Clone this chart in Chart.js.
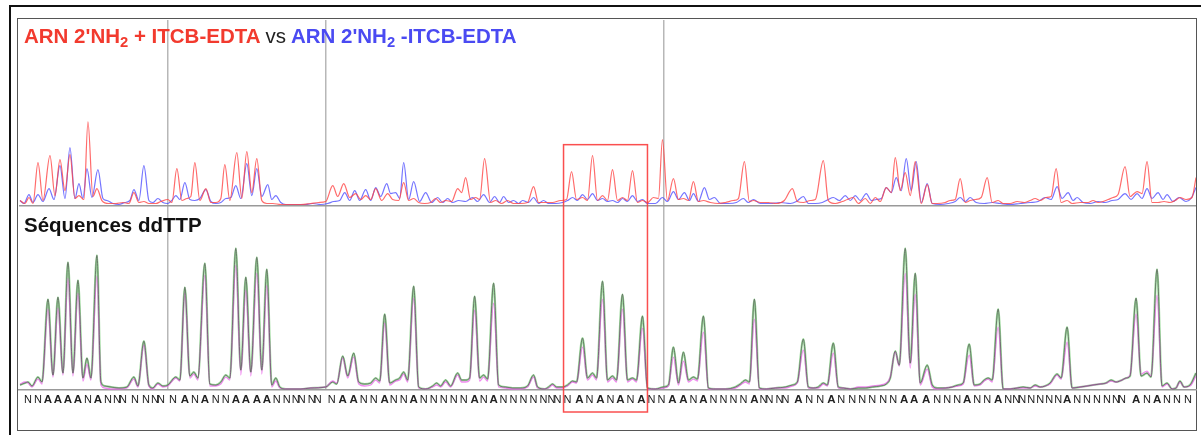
<!DOCTYPE html>
<html>
<head>
<meta charset="utf-8">
<script src="https://cdn.jsdelivr.net/npm/chart.js@4/dist/chart.umd.min.js"></script>
<style>
body { margin: 0; background: #fff; }
#wrap { position: relative; width: 1201px; height: 435px; overflow: hidden; font-family: "Liberation Sans", Arial, sans-serif; }
#outer { position: absolute; left: 9px; top: 5px; right: -5px; bottom: -5px; border-left: 2px solid #111; border-top: 2px solid #111; }
#inner { position: absolute; box-sizing: border-box; left: 17px; top: 18px; width: 1180px; height: 413px; border: 1.5px solid #555; }
canvas { position: absolute; left: 0; top: 0; }
.lbl { position: absolute; left: 24px; font-weight: bold; font-size: 20.5px; line-height: 20px; white-space: nowrap; z-index: 2; }
.lbl sub { font-size: 0.72em; vertical-align: -0.28em; line-height: 0; }
.vs { font-weight: normal; color: #222; }
</style>
</head>
<body>
<div id="wrap">
  <div id="outer"></div>
  <div id="inner"></div>
  <canvas id="trace" width="1201" height="435"></canvas>
  <div class="lbl" style="top:26px"><span style="color:#f23a2e">ARN 2'NH<sub>2</sub> + ITCB-EDTA</span> <span class="vs">vs</span> <span style="color:#4a4af2">ARN 2'NH<sub>2</sub> -ITCB-EDTA</span></div>
  <div class="lbl" style="top:215px;color:#111">Séquences ddTTP</div>
</div>
<script>
// scan positions run 18..1196, signal in arbitrary fluorescence units

// top panel: modified RNA with / without ITCB-EDTA
var redTrace = [[19,5],[24,2],[28,8],[32,2],[37,43],[42,5],[49,50],[54,10],[59,46],[64,15],[69,51],[74,7],[78,10],[83,6],[87,84],[92,9],[96,17],[101,5],[108,2],[115,2],[122,3],[128,2],[133,13],[138,3],[143,4],[148,2],[155,2],[160,4],[167,6],[171,3],[176,37],[181,5],[186,7],[190,9],[194,43],[199,5],[205,17],[210,3],[215,3],[220,7],[224,41],[229,5],[236,53],[241,7],[246,54],[251,13],[256,47],[261,5],[266,2],[272,2],[280,1],[290,1],[300,1],[310,2],[318,3],[325,4],[332,20],[337,9],[343,22],[349,8],[355,12],[360,6],[365,10],[370,6],[375,17],[381,5],[387,12],[392,6],[398,5],[403,23],[408,5],[413,7],[418,3],[424,2],[430,3],[435,7],[440,3],[445,5],[451,4],[457,17],[461,13],[465,28],[470,6],[475,8],[479,6],[484,47],[490,3],[495,5],[501,2],[507,5],[513,2],[520,2],[527,3],[533,19],[538,3],[545,3],[552,3],[560,5],[566,6],[571,34],[576,6],[582,8],[587,5],[592,50],[597,5],[602,10],[607,5],[612,36],[617,5],[622,8],[627,5],[632,35],[637,3],[642,5],[647,3],[653,8],[658,7],[662,66],[667,5],[673,27],[678,6],[683,7],[688,5],[693,24],[698,4],[703,5],[710,3],[718,2],[725,3],[733,5],[738,7],[744,44],[749,4],[753,5],[760,3],[768,3],[776,2],[784,5],[792,17],[797,4],[803,3],[810,5],[815,6],[823,45],[828,5],[835,2],[842,4],[847,6],[853,8],[858,2],[865,7],[870,2],[875,8],[880,4],[886,18],[891,13],[895,48],[900,15],[905,33],[910,10],[915,44],[921,2],[927,21],[932,2],[937,2],[945,3],[950,5],[955,6],[960,27],[965,3],[970,5],[975,6],[981,8],[987,28],[992,3],[998,5],[1003,2],[1010,2],[1017,4],[1024,3],[1030,5],[1035,7],[1040,5],[1046,8],[1051,9],[1056,37],[1061,3],[1067,5],[1072,2],[1080,3],[1088,3],[1093,5],[1098,3],[1103,4],[1108,6],[1113,8],[1118,11],[1125,39],[1130,9],[1137,14],[1142,12],[1147,44],[1152,3],[1158,3],[1164,4],[1170,3],[1175,5],[1180,8],[1186,6],[1192,8],[1196,28]];

var blueTrace = [[19,5],[23,2],[28,11],[32,3],[37,11],[42,4],[48,17],[53,6],[59,40],[64,7],[69,58],[74,7],[78,22],[82,7],[86,37],[91,8],[97,36],[102,7],[106,5],[112,2],[118,1],[124,3],[129,5],[133,16],[138,5],[143,40],[148,5],[152,3],[157,7],[162,3],[167,2],[171,5],[175,10],[179,6],[184,23],[189,6],[194,5],[199,7],[205,16],[210,4],[215,2],[220,3],[225,7],[230,8],[235,20],[240,7],[246,42],[251,10],[256,37],[261,9],[267,21],[271,6],[275,10],[280,3],[285,1],[295,1],[305,1],[312,2],[320,1],[327,2],[333,4],[339,5],[344,13],[349,5],[354,15],[359,5],[365,16],[370,5],[375,18],[380,9],[386,22],[390,12],[395,13],[399,7],[403,43],[408,6],[413,24],[419,4],[425,13],[431,3],[437,8],[442,3],[447,7],[452,3],[458,5],[465,4],[472,8],[477,4],[483,11],[489,3],[494,9],[499,3],[503,9],[508,3],[513,5],[518,2],[522,5],[528,3],[533,8],[538,2],[543,5],[548,2],[555,2],[562,3],[567,5],[572,8],[577,5],[582,11],[587,6],[592,12],[597,5],[602,7],[607,4],[612,5],[617,3],[622,7],[627,4],[632,10],[637,4],[642,6],[647,2],[655,2],[662,8],[667,4],[673,14],[678,6],[684,13],[689,5],[693,12],[698,4],[704,18],[709,6],[714,8],[720,2],[728,2],[736,3],[743,7],[748,3],[753,6],[760,2],[770,2],[780,3],[790,2],[796,4],[803,9],[808,2],[815,2],[822,3],[828,6],[833,8],[839,5],[845,10],[850,5],[855,10],[860,5],[866,12],[871,5],[876,6],[881,7],[886,18],[891,13],[896,28],[901,15],[906,47],[911,15],[916,44],[921,3],[927,22],[932,2],[940,1],[948,2],[955,4],[960,8],[965,4],[970,8],[976,3],[984,2],[992,3],[1000,2],[1010,1],[1020,2],[1030,3],[1038,4],[1045,8],[1051,6],[1057,19],[1062,7],[1068,13],[1073,5],[1077,8],[1083,3],[1090,2],[1098,4],[1105,3],[1112,5],[1118,6],[1125,12],[1131,6],[1137,12],[1142,7],[1147,17],[1152,7],[1158,13],[1163,6],[1167,11],[1173,4],[1179,8],[1186,4],[1191,7],[1196,18]];

// bottom panel: ddTTP sequencing ladder
var greenTrace = [[19,5],[24,7],[27,8],[31,4],[37,13],[41,8],[47,91],[52,15],[57,93],[62,17],[67,128],[72,17],[77,110],[82,12],[86,32],[90,12],[96,135],[100,8],[104,4],[110,3],[118,2],[126,3],[133,13],[137,4],[143,49],[148,5],[152,2],[157,7],[162,4],[167,5],[175,13],[179,10],[184,103],[189,14],[193,18],[197,12],[204,127],[209,6],[215,5],[220,8],[225,15],[229,12],[235,142],[240,20],[245,113],[250,18],[256,133],[261,20],[266,121],[271,5],[275,12],[279,3],[285,1],[300,1],[310,2],[325,3],[332,8],[336,6],[342,34],[347,14],[353,37],[358,8],[364,6],[370,7],[375,12],[379,9],[384,76],[389,7],[395,10],[399,12],[403,18],[407,10],[413,104],[418,3],[425,1],[432,4],[436,7],[440,4],[445,10],[450,4],[457,17],[461,10],[465,10],[469,12],[474,94],[479,12],[483,15],[487,11],[493,107],[498,5],[505,3],[512,2],[520,2],[527,4],[533,15],[537,3],[544,1],[548,3],[552,6],[556,3],[562,3],[567,5],[572,9],[576,8],[582,52],[587,12],[592,17],[596,12],[602,109],[607,10],[612,14],[616,10],[622,96],[627,10],[632,12],[636,10],[642,74],[647,2],[655,1],[663,3],[668,5],[673,43],[678,7],[683,38],[688,10],[693,13],[697,11],[703,74],[708,2],[715,1],[725,1],[735,3],[740,6],[745,10],[749,8],[754,91],[759,2],[766,1],[775,2],[785,3],[792,5],[797,8],[803,51],[808,3],[813,2],[818,3],[823,7],[827,5],[833,47],[838,3],[843,2],[850,1],[858,2],[865,2],[872,3],[880,4],[886,6],[890,12],[895,39],[899,25],[905,142],[910,27],[915,117],[920,7],[927,25],[932,5],[937,2],[945,2],[952,3],[958,5],[963,7],[969,46],[974,5],[980,6],[984,10],[988,12],[992,10],[998,81],[1003,1],[1010,1],[1017,2],[1023,3],[1030,2],[1035,5],[1040,3],[1045,4],[1050,7],[1057,16],[1061,12],[1067,63],[1072,2],[1080,3],[1087,4],[1093,5],[1100,6],[1106,7],[1111,10],[1116,8],[1122,10],[1126,12],[1130,14],[1136,92],[1141,14],[1147,17],[1151,13],[1157,121],[1162,4],[1167,7],[1172,1],[1176,2],[1180,9],[1184,3],[1190,5],[1196,17]];

var magentaTrace = [[19,6],[24,8],[27,7],[31,3],[37,11],[41,6],[47,81],[52,13],[57,82],[62,15],[67,112],[72,14],[77,97],[82,9],[86,26],[90,10],[96,114],[100,5],[104,2],[110,1],[118,1],[126,2],[133,11],[137,3],[143,45],[148,4],[152,1],[157,6],[162,3],[167,4],[175,12],[179,9],[184,97],[189,12],[193,16],[197,10],[204,115],[209,4],[215,4],[220,6],[225,13],[229,10],[235,125],[240,15],[245,100],[250,14],[256,117],[261,16],[266,105],[271,3],[275,9],[279,2],[285,1],[300,1],[310,2],[325,3],[332,9],[336,7],[342,32],[347,12],[353,33],[358,6],[364,4],[370,5],[375,10],[379,7],[384,67],[389,5],[395,9],[399,10],[403,16],[407,8],[413,92],[418,2],[425,1],[432,3],[436,5],[440,3],[445,8],[450,3],[457,15],[461,8],[465,8],[469,10],[474,80],[479,9],[483,13],[487,9],[493,87],[498,3],[505,2],[512,1],[520,1],[527,3],[533,13],[537,2],[544,1],[548,2],[552,5],[556,2],[562,2],[567,4],[572,8],[576,7],[582,43],[587,10],[592,15],[596,10],[602,91],[607,8],[612,12],[616,8],[622,81],[627,8],[632,11],[636,8],[642,62],[647,1],[655,1],[663,2],[668,4],[673,33],[678,5],[683,29],[688,8],[693,11],[697,9],[703,58],[708,1],[715,1],[725,1],[735,2],[740,5],[745,8],[749,6],[754,71],[759,1],[766,1],[775,2],[785,2],[792,4],[797,7],[803,40],[808,2],[813,2],[818,2],[823,6],[827,4],[833,37],[838,2],[843,2],[850,1],[858,3],[865,3],[872,4],[880,5],[886,7],[890,13],[895,38],[899,24],[905,117],[910,22],[915,96],[920,5],[927,21],[932,3],[937,1],[945,2],[952,3],[958,4],[963,6],[969,35],[974,4],[980,5],[984,9],[988,11],[992,8],[998,63],[1003,1],[1010,1],[1017,2],[1023,2],[1030,2],[1035,4],[1040,3],[1045,4],[1050,6],[1057,15],[1061,11],[1067,48],[1072,2],[1080,3],[1087,4],[1093,5],[1100,6],[1106,7],[1111,9],[1116,8],[1122,10],[1126,12],[1130,15],[1136,76],[1141,16],[1147,19],[1151,14],[1157,95],[1162,3],[1167,6],[1172,1],[1176,2],[1180,8],[1184,3],[1190,4],[1196,14]];

// base calls under the ladder
var seqPos = [27,37,47,57,67,77,87,97,107,116,
  122,134,145,154,160,172,184,194,204,215,
  225,235,245,256,266,276,286,295,301,311,
  317,331,342,353,363,373,384,393,403,413,
  423,433,443,453,463,474,483,493,503,513,
  523,533,543,551,557,567,579,589,600,610,
  620,630,641,651,661,672,683,693,703,713,
  723,733,743,754,763,769,779,785,798,809,
  820,831,841,852,862,872,883,893,904,914,
  926,937,947,957,967,977,987,998,1008,1016,
  1022,1031,1040,1049,1058,1067,1077,1087,1097,1107,
  1116,1122,1136,1147,1157,1167,1177,1188];
var seqBase = ("NNAAAANANN" + "NNNNNNANAN" + "NAAAANNNNN" + "NNAANNANNA" +
  "NNNNNANANN" + "NNNNNNANAN" + "ANANNAANAN" + "NNNANNNNAN" +
  "NANNNNNNAA" + "ANNNANNANN" + "NNNNNANNNN" + "NNANANNN").split("");

var runBreaks = [167, 325, 663];   // gray separators between reads
var boxRange = [563, 647];         // highlighted region
var boxTop = 61;                   // top of highlight, in top-panel units

function toPoints(list) {
  return list.map(function (p) { return {x: p[0], y: p[1]}; });
}

function trace(list, color, width, axis) {
  return {
    data: toPoints(list),
    yAxisID: axis,
    borderColor: color,
    borderWidth: width,
    pointRadius: 0,
    fill: false,
    cubicInterpolationMode: "monotone"
  };
}

var highlightBox = {
  id: "highlightBox",
  afterDraw: function (chart) {
    var ctx = chart.ctx;
    var x = chart.scales.x;
    var left = x.getPixelForValue(boxRange[0]);
    var right = x.getPixelForValue(boxRange[1]);
    var top = chart.scales.yTop.getPixelForValue(boxTop);
    var bottom = chart.chartArea.bottom + 22;
    ctx.save();
    ctx.strokeStyle = "rgba(250,60,60,0.9)";
    ctx.lineWidth = 1.5;
    ctx.strokeRect(left, top, right - left, bottom - top);
    ctx.restore();
  }
};

// first dataset is painted last (on top)
var datasets = [
  trace(redTrace, "rgba(255,70,70,0.8)", 1.2, "yTop"),
  trace(blueTrace, "rgba(70,70,255,0.75)", 1.2, "yTop"),
  trace(greenTrace, "rgba(85,85,85,0.7)", 1, "yBot"),
  trace(magentaTrace, "rgba(235,100,235,0.75)", 1.3, "yBot"),
  trace(greenTrace, "rgba(90,195,90,0.6)", 2.2, "yBot")
];

new Chart(document.getElementById("trace"), {
  type: "line",
  data: { datasets: datasets },
  plugins: [highlightBox],
  options: {
    responsive: false,
    animation: false,
    events: [],
    layout: { padding: { left: 19, right: 5, top: 20, bottom: 25 } },
    plugins: { legend: { display: false }, tooltip: { enabled: false } },
    scales: {
      x: {
        type: "linear", min: 18, max: 1196,
        afterBuildTicks: function (axis) {
          axis.ticks = seqPos.map(function (p) { return {value: p}; });
        },
        afterFit: function (axis) { axis.height = 20; },
        ticks: {
          autoSkip: false, maxRotation: 0, minRotation: 0, padding: 3,
          callback: function (v, i) { return seqBase[i]; },
          color: "#222",
          font: function (c) {
            return seqBase[c.index] === "A"
              ? {family: "Liberation Sans", size: 11.5, weight: "bold"}
              : {family: "Liberation Sans", size: 11};
          }
        },
        grid: { display: false, drawTicks: false },
        border: { display: true, color: "#999", width: 1.5 }
      },
      xg: {
        type: "linear", position: "top", min: 18, max: 1196,
        afterBuildTicks: function (axis) {
          axis.ticks = runBreaks.map(function (p) { return {value: p}; });
        },
        ticks: { display: false },
        grid: { color: "rgba(175,175,175,0.9)", lineWidth: 1.5, drawTicks: false },
        border: { display: false }
      },
      yBot: {
        type: "linear", position: "left", stack: "panels", stackWeight: 185, weight: 1,
        min: 0, max: 185,
        afterBuildTicks: function (axis) { axis.ticks = [{value: 0}]; },
        ticks: { display: false },
        grid: { drawTicks: false, color: "transparent" },
        border: { display: false }
      },
      yTop: {
        type: "linear", position: "left", stack: "panels", stackWeight: 186, weight: 2,
        min: 0, max: 186,
        afterBuildTicks: function (axis) { axis.ticks = [{value: 0}]; },
        ticks: { display: false },
        grid: { drawTicks: false, color: "#999", lineWidth: 1.5 },
        border: { display: false }
      }
    }
  }
});
</script>
</body>
</html>
